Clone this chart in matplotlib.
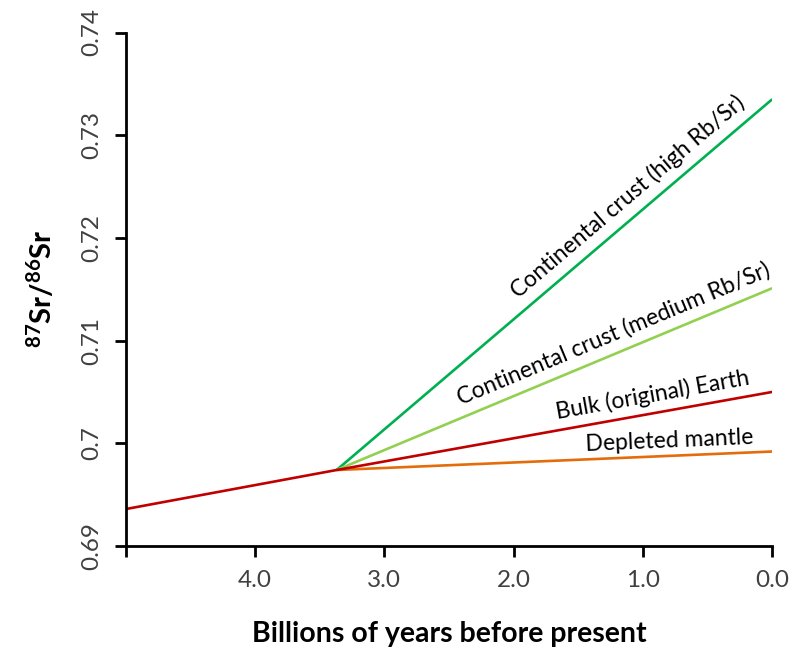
import numpy as np
import matplotlib
matplotlib.use("Agg")
import matplotlib.pyplot as plt

plt.rcParams['font.family'] = ['Lato', 'DejaVu Sans']
plt.rcParams['mathtext.fontset'] = 'custom'
plt.rcParams['mathtext.bf'] = 'Lato:bold'
plt.rcParams['mathtext.rm'] = 'Lato'

# Sr isotope evolution (age in Ga before present, 87Sr/86Sr)
bulk_age = [5.0, 3.37, 0.0]
bulk_sr = [0.6936, 0.6974, 0.7050]
split_age = [3.37, 0.0]
mantle_sr = [0.6974, 0.6992]
crust_med_sr = [0.6974, 0.7151]
crust_high_sr = [0.6974, 0.7335]

labels = ["Continental crust (high Rb/Sr)", "Continental crust (medium Rb/Sr)",
          "Bulk (original) Earth", "Depleted mantle"]
label_age = [1.02, 1.17, 0.90, 0.79]

x_ticks = [5.0, 4.0, 3.0, 2.0, 1.0, 0.0]
x_ticklabels = ["", "4.0", "3.0", "2.0", "1.0", "0.0"]
y_ticks = [0.69, 0.70, 0.71, 0.72, 0.73, 0.74]
y_ticklabels = ["0.69", "0.7", "0.71", "0.72", "0.73", "0.74"]

fig = plt.figure(figsize=(7.92, 6.5), dpi=100)
ax = fig.add_axes([0.159, 0.160, 0.816, 0.790])

lw = 1.9
ax.plot(split_age, crust_high_sr, color='#00B050', lw=lw, solid_capstyle='butt')
ax.plot(split_age, crust_med_sr, color='#92D050', lw=lw, solid_capstyle='butt')
ax.plot(split_age, mantle_sr, color='#E46C0A', lw=lw, solid_capstyle='butt')
ax.plot(bulk_age, bulk_sr, color='#C00000', lw=lw, solid_capstyle='butt')

ax.set_xlim(5.0, 0.0)
ax.set_ylim(0.69, 0.74)
ax.set_xticks(x_ticks)
ax.set_xticklabels(x_ticklabels, fontsize=17.5, color='#404040')
ax.set_yticks(y_ticks)
ax.set_yticklabels(y_ticklabels, fontsize=17.5, color='#404040', rotation=90, va='center')

for side in ['top', 'right']:
    ax.spines[side].set_visible(False)
for side in ['left', 'bottom']:
    ax.spines[side].set_linewidth(2)
ax.tick_params(direction='out', length=8, width=2, pad=9)

ax.set_xlabel("Billions of years before present", fontsize=20.5, fontweight='bold', labelpad=22)
ax.set_ylabel(r"$\mathbf{^{87}Sr/^{86}Sr}$", fontsize=21, labelpad=18)

# labels placed along each line
series = [crust_high_sr, crust_med_sr, bulk_sr[1:], mantle_sr]
gaps = [6, 6, 5, 3]
for text, age, ys, gap in zip(labels, label_age, series, gaps):
    y = np.interp(age, split_age[::-1], ys[::-1])
    p0 = ax.transData.transform((split_age[0], ys[0]))
    p1 = ax.transData.transform((split_age[1], ys[1]))
    ang = np.degrees(np.arctan2(p1[1] - p0[1], p1[0] - p0[0]))
    th = np.radians(ang)
    ax.annotate(text, xy=(age, y), xytext=(-np.sin(th) * gap, np.cos(th) * gap),
                textcoords='offset points', rotation=ang, rotation_mode='anchor',
                ha='center', va='bottom', fontsize=16.5, color='black')

fig.savefig("out.png", dpi=100)
